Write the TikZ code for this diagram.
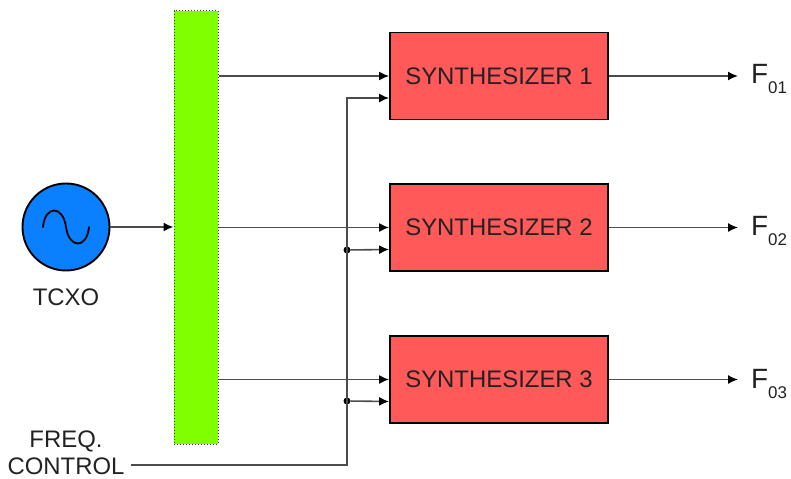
\documentclass[tikz,border=0pt]{standalone}
\usepackage{fontspec}
\setmainfont{Liberation Sans}
\usetikzlibrary{arrows.meta,calc}
\definecolor{synthred}{HTML}{FF5959}
\definecolor{busgreen}{HTML}{7FFF00}
\definecolor{oscblue}{HTML}{0A80FF}
\definecolor{ink}{HTML}{222222}
\tikzset{
  x=1bp,y=-1bp,
  synth/.style={draw=black,line width=1.8bp,fill=synthred,minimum width=218bp,minimum height=87bp,inner sep=0pt,text=ink,font=\fontsize{24}{24}\selectfont},
  busbar/.style={draw=black!75,line width=1bp,dotted,fill=busgreen,minimum width=44bp,minimum height=433bp,inner sep=0pt},
  osc/.style={circle,draw=black,line width=1.9bp,fill=oscblue,minimum size=87bp,inner sep=0pt},
  wire/.style={draw=black!70,line width=1.6bp},
  arr/.style={wire,-{Latex[length=10bp,width=9bp,black]}},
  lbl/.style={text=ink,inner sep=0pt,font=\fontsize{24}{27}\selectfont},
  fout/.style={text=ink,inner sep=0pt,anchor=base west,font=\fontsize{28}{28}\selectfont},
  junction/.style={circle,fill=black,minimum size=7bp,inner sep=0pt}
}
\newcommand{\subout}[1]{\raisebox{-10bp}{\fontsize{17}{17}\selectfont #1}}
\begin{document}
\begin{tikzpicture}
\useasboundingbox (0,0) rectangle (791,479);
\node[busbar] (bus) at (196,227.5) {};
\node[osc] (tcxo) at (66,227) {};
\draw[line width=1.8bp,black,line cap=round] (43,227) .. controls (45,205) and (63,205) .. (66,227) .. controls (69,249) and (87,249) .. (89,227);
\node[lbl] (tcxolabel) at (66,297) {TCXO};
\node[synth] (s1) at (499,76) {SYNTHESIZER 1};
\node[synth] (s2) at (499,227.5) {SYNTHESIZER 2};
\node[synth] (s3) at (499,379.5) {SYNTHESIZER 3};
\node[fout] (f1) at (751,84) {F\subout{01}};
\node[fout] (f2) at (751,236) {F\subout{02}};
\node[fout] (f3) at (751,388) {F\subout{03}};
\node[lbl,align=center] (freq) at (66,453) {FREQ.\\CONTROL};
\coordinate (in1) at ($(s1.west)+(0,22)$);
\coordinate (in2) at ($(s2.west)+(0,22)$);
\coordinate (in3) at ($(s3.west)+(0,22)$);
\coordinate (corner) at (347,465);
\coordinate (start) at (131,465);
\coordinate (top) at (347,98);
\node[junction] (j2) at (347,250) {};
\node[junction] (j3) at (347,401) {};
\coordinate (out1) at (738,76);
\coordinate (out2) at (738,227.5);
\coordinate (out3) at (738,379.5);
\draw[arr] (tcxo.east) -- (bus.west |- tcxo.east);
\draw[arr] (bus.east |- s1.west) -- (s1.west);
\draw[arr] (bus.east |- s2.west) -- (s2.west);
\draw[arr] (bus.east |- s3.west) -- (s3.west);
\draw[arr] (start) -- (corner) -- (top) -- (in1);
\draw[arr] (j2) -- (in2);
\draw[arr] (j3) -- (in3);
\draw[arr] (s1.east) -- (out1);
\draw[arr] (s2.east) -- (out2);
\draw[arr] (s3.east) -- (out3);
\end{tikzpicture}
\end{document}
